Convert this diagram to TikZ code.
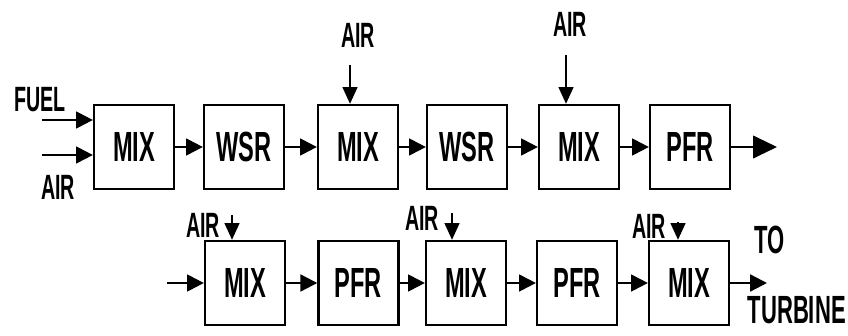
\documentclass[tikz,border=0pt]{standalone}
\usepackage{fontspec}
\setmainfont[FakeStretch=0.56]{Liberation Sans}
\usetikzlibrary{arrows.meta}

\begin{document}
\begin{tikzpicture}[
        caja/.style={draw,line width=1.6pt,minimum width=2cm,minimum height=2.1cm,
            font=\bfseries\fontsize{30}{32}\selectfont},
        flecha/.style={line width=1.6pt,-{Triangle[length=12pt,width=12pt]}},
        flechaaire/.style={line width=1.6pt,-{Triangle[length=12pt,width=10.5pt]}},
        etiqueta/.style={font=\bfseries\fontsize{25}{27}\selectfont,inner sep=0pt}]
            \useasboundingbox (0,0) rectangle (21.2,8.375);
            % Primera fila
            \node[caja] (mixA) at (3.35,4.7) {MIX};
            \node[caja] (wsrA) at (6.1,4.7) {WSR};
            \node[caja] (mixB) at (8.95,4.7) {MIX};
            \node[caja] (wsrB) at (11.675,4.7) {WSR};
            \node[caja] (mixC) at (14.475,4.7) {MIX};
            \node[caja] (pfrA) at (17.25,4.7) {PFR};
            \node[etiqueta] (fuel) at (1.0,5.875) {FUEL};
            \node[etiqueta] (airA) at (1.45,3.7) {AIR};
            \node[etiqueta] (airB) at (8.95,7.5) {AIR};
            \node[etiqueta] (airC) at (14.25,7.775) {AIR};
            \coordinate (inFuel) at (1.05,5.375);
            \coordinate (inAirA) at (1.05,4.5);
            \coordinate (inAirB) at (8.75,6.75);
            \coordinate (inAirC) at (14.15,7.0);
            \coordinate (outA) at (19.425,4.7);
            \draw[flecha] (inFuel) -- (inFuel -| mixA.west);
            \draw[flecha] (inAirA) -- (inAirA -| mixA.west);
            \draw[flechaaire] (inAirB) -- (inAirB |- mixB.north);
            \draw[flechaaire] (inAirC) -- (inAirC |- mixC.north);
            \draw[flecha] (mixA) -- (wsrA);
            \draw[flecha] (wsrA) -- (mixB);
            \draw[flecha] (mixB) -- (wsrB);
            \draw[flecha] (wsrB) -- (mixC);
            \draw[flecha] (mixC) -- (pfrA);
            \draw[line width=1.6pt,-{Triangle[length=17pt,width=16pt]}] (pfrA) -- (outA);
            % Segunda fila
            \node[caja] (mixD) at (6.125,1.3) {MIX};
            \node[caja] (pfrB) at (8.96,1.3) {PFR};
            \node[caja] (mixE) at (11.65,1.3) {MIX};
            \node[caja] (pfrC) at (14.425,1.3) {PFR};
            \node[caja] (mixF) at (17.225,1.3) {MIX};
            \node[etiqueta] (airD) at (5.075,2.75) {AIR};
            \node[etiqueta] (airE) at (10.55,2.925) {AIR};
            \node[etiqueta] (airF) at (16.225,2.725) {AIR};
            \node[etiqueta,font=\bfseries\fontsize{28}{30}\selectfont] (to) at (19.25,2.375) {TO};
            \node[etiqueta,font=\bfseries\fontsize{28}{30}\selectfont,anchor=east] (turbine) at (21.15,0.625) {TURBINE};
            \coordinate (inD) at (4.175,1.3);
            \coordinate (inAirD) at (5.8,3.0);
            \coordinate (inAirE) at (11.3,3.05);
            \coordinate (inAirF) at (16.95,2.825);
            \coordinate (outF) at (19.175,1.3);
            \draw[flecha] (inD) -- (mixD);
            \draw[flechaaire] (inAirD) -- (inAirD |- mixD.north);
            \draw[flechaaire] (inAirE) -- (inAirE |- mixE.north);
            \draw[flechaaire] (inAirF) -- (inAirF |- mixF.north);
            \draw[flecha] (mixD) -- (pfrB);
            \draw[flecha] (pfrB) -- (mixE);
            \draw[flecha] (mixE) -- (pfrC);
            \draw[flecha] (pfrC) -- (mixF);
            \draw[flecha] (mixF) -- (outF);
        \end{tikzpicture}
\end{document}
